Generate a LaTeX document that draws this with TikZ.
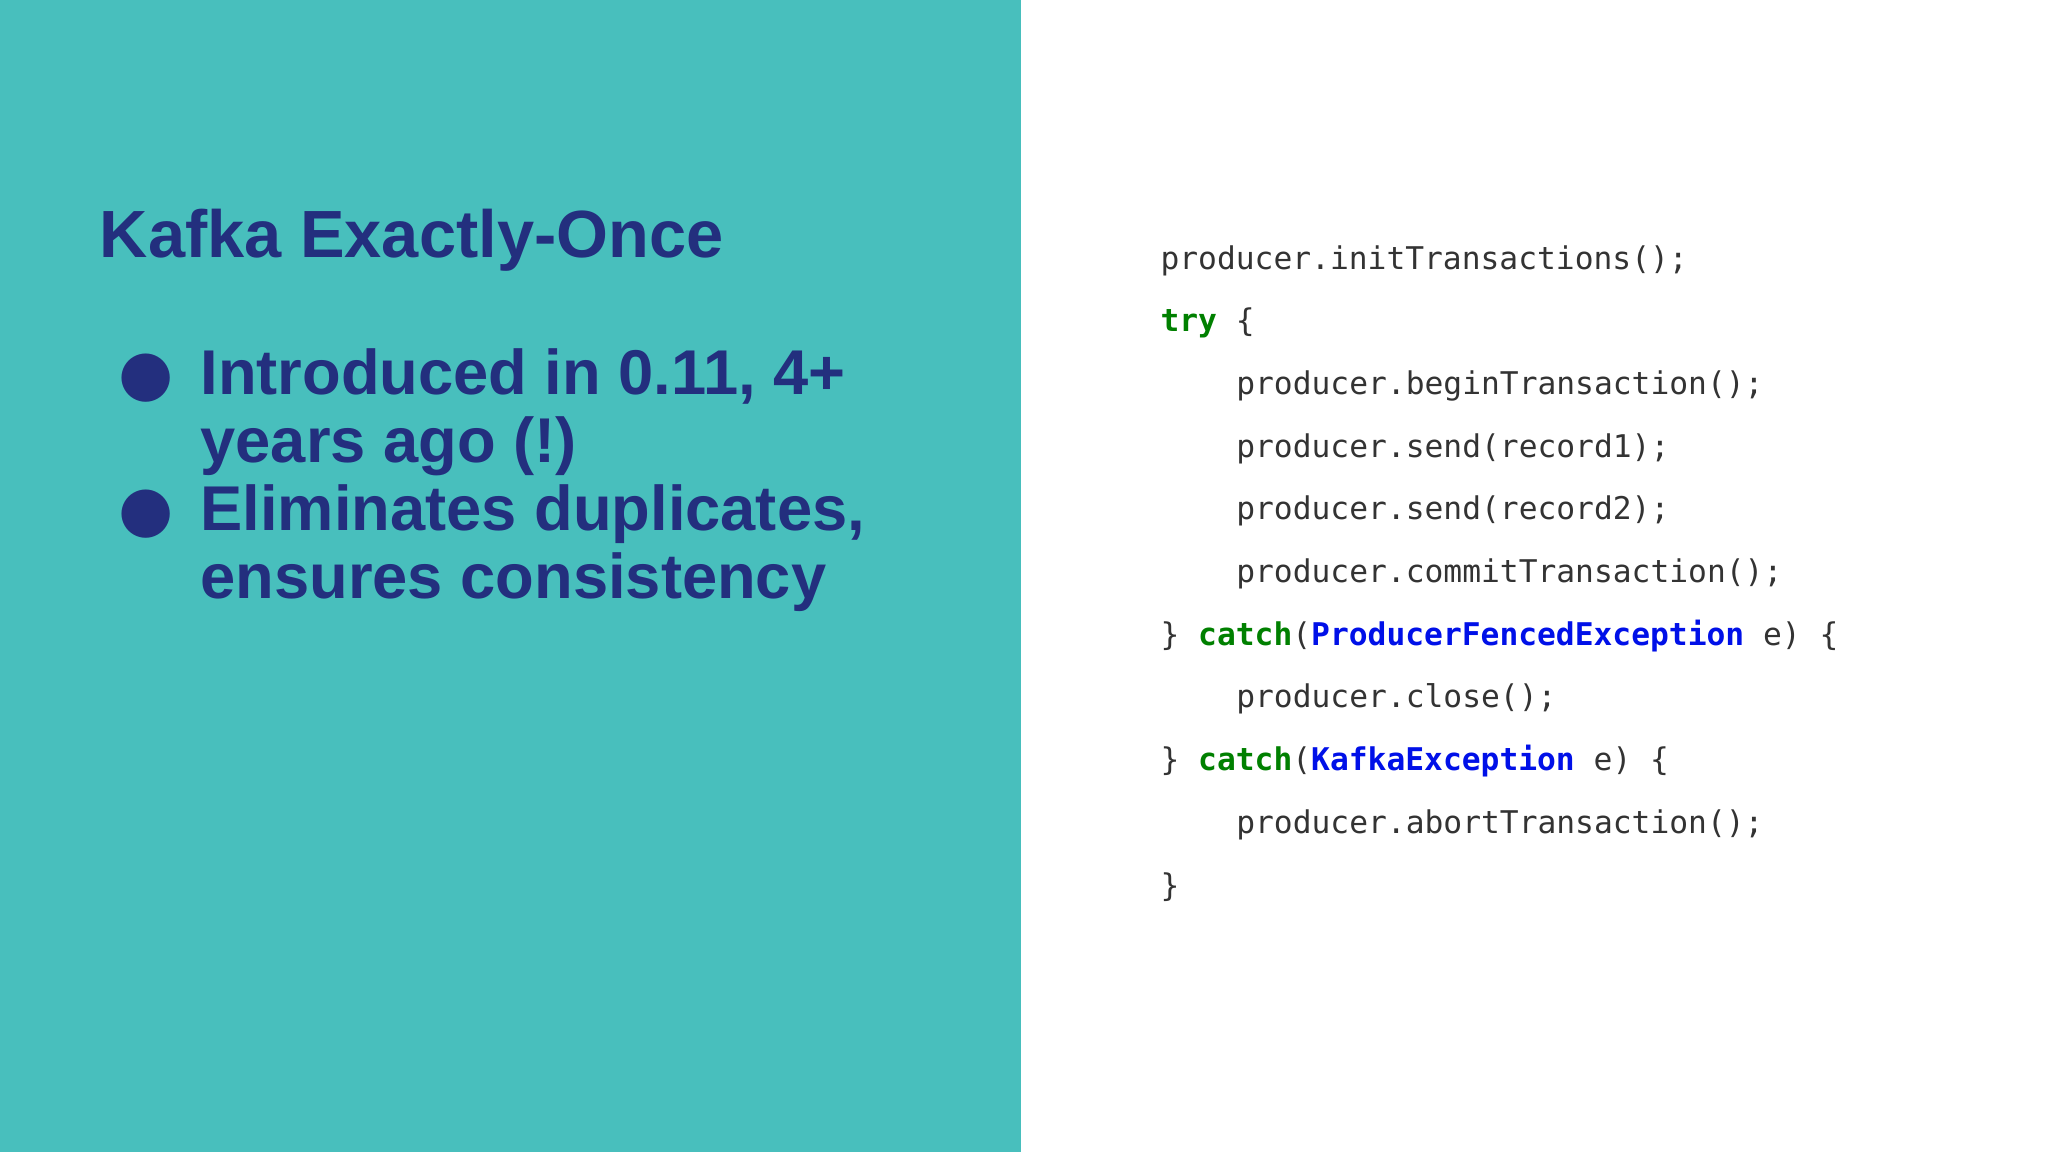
\documentclass[tikz,border=0pt]{standalone}
\usepackage{fontspec}
\setmainfont{Liberation Sans}
\setmonofont{DejaVu Sans Mono}
\definecolor{teal}{HTML}{48BFBD}
\definecolor{navy}{HTML}{232F7E}
\definecolor{kw}{HTML}{008000}
\definecolor{ty}{HTML}{0010E8}
\definecolor{code}{HTML}{333333}
\begin{document}
\begin{tikzpicture}[x=0.013061cm,y=-0.013061cm,
  codeline/.style={anchor=base west,inner sep=0,font=\ttfamily\fontsize{8.9}{10}\selectfont,text=code},
  bul/.style={anchor=base west,inner sep=0,font=\bfseries\fontsize{18}{22}\selectfont,text=navy}]
\useasboundingbox (0,0) rectangle (1568,882);
\fill[teal] (0,0) rectangle (782,882);
\fill[white] (782,0) rectangle (1568,882);
\node[anchor=base west,inner sep=0,font=\bfseries\fontsize{19}{22}\selectfont,text=navy] (title) at (76,197) {Kafka Exactly-Once};
\node[bul] (b1) at (90,302) {\fontspec{DejaVu Sans}●};
\node[bul] (t1a) at (153,302) {Introduced in 0.11, 4+};
\node[bul] (t1b) at (153,354) {years ago (!)};
\node[bul] (b2) at (90,406) {\fontspec{DejaVu Sans}●};
\node[bul] (t2a) at (153,406) {Eliminates duplicates,};
\node[bul] (t2b) at (153,458) {ensures consistency};
\node[codeline] (c1) at (888,206) {producer.initTransactions();};
\node[codeline] (c2) at (888,254) {\textcolor{kw}{\bfseries try} \{};
\node[codeline] (c3) at (946,302) {producer.beginTransaction();};
\node[codeline] (c4) at (946,350) {producer.send(record1);};
\node[codeline] (c5) at (946,398) {producer.send(record2);};
\node[codeline] (c6) at (946,446) {producer.commitTransaction();};
\node[codeline] (c7) at (888,494) {\} \textcolor{kw}{\bfseries catch}(\textcolor{ty}{\bfseries ProducerFencedException} e) \{};
\node[codeline] (c8) at (946,542) {producer.close();};
\node[codeline] (c9) at (888,590) {\} \textcolor{kw}{\bfseries catch}(\textcolor{ty}{\bfseries KafkaException} e) \{};
\node[codeline] (c10) at (946,638) {producer.abortTransaction();};
\node[codeline] (c11) at (888,686) {\}};
\end{tikzpicture}
\end{document}
